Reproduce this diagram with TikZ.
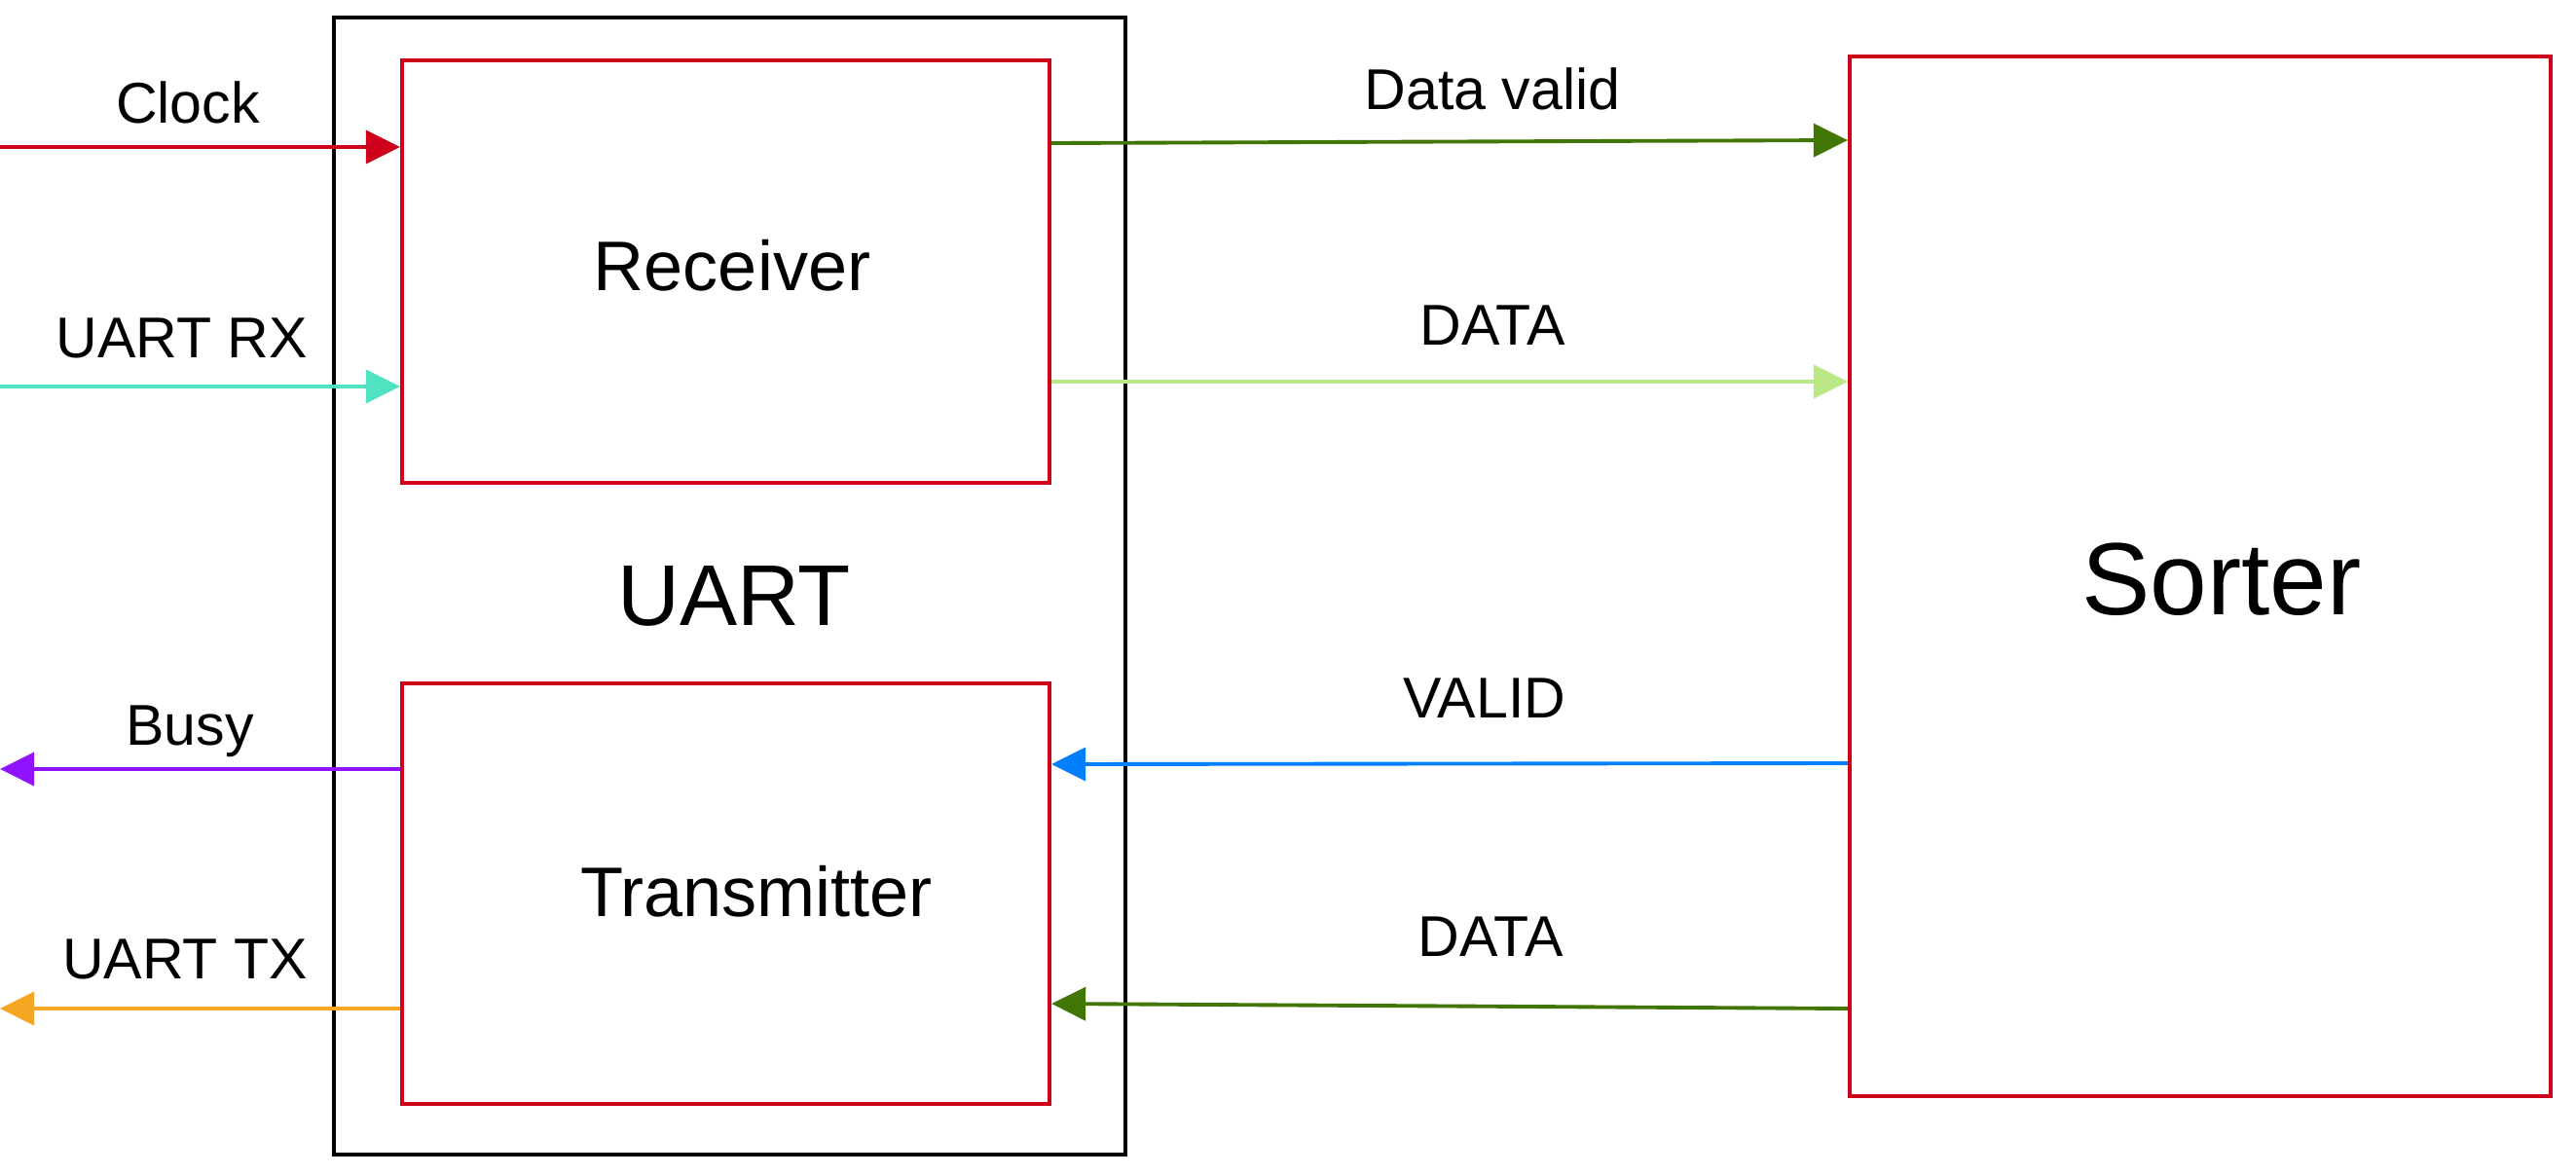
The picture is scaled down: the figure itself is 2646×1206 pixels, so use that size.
\documentclass[tikz,border=0pt]{standalone}
\usepackage{fontspec}
\setmainfont{Liberation Sans}
\usetikzlibrary{arrows.meta, positioning, calc}
\definecolor{blockred}{RGB}{208, 2, 27}
\definecolor{rxcyan}{RGB}{80, 227, 194}
\definecolor{busypurple}{RGB}{144, 19, 254}
\definecolor{txorange}{RGB}{245, 166, 35}
\definecolor{validgreen}{RGB}{65, 117, 5}
\definecolor{datagreen}{RGB}{184, 233, 134}
\definecolor{validblue}{RGB}{0, 127, 255}

\begin{document}
\begin{tikzpicture}[
    x=0.01cm, y=-0.01cm,
    unitbox/.style={
        rectangle, draw=blockred, line width=1.1pt, inner sep=0pt
    },
    sigarrow/.style={
        -{Triangle[length=3.5mm, width=3.4mm]}, line width=1.1pt
    },
    siglabel/.style={
        anchor=base, inner sep=0pt, font=\fontsize{16.8}{20}\selectfont
    },
    blocklabel/.style={
        anchor=base, inner sep=0pt, font=\fontsize{20.5}{24}\selectfont
    }
]
\useasboundingbox (0,0) rectangle (2646,1206);

% Nodes
\node[rectangle, draw=black, line width=1.2pt, minimum width=8.13cm, minimum height=11.68cm] (uart) at (749.5,602) {};
\node[unitbox, minimum width=6.65cm, minimum height=4.34cm] (rx) at (745.5,279) {};
\node[unitbox, minimum width=6.65cm, minimum height=4.32cm] (tx) at (745.5,918) {};
\node[unitbox, minimum width=7.20cm, minimum height=10.68cm] (sorter) at (2260,592) {};

\node[blocklabel] (rxname) at (752,298) {Receiver};
\node[blocklabel] (txname) at (777,941) {Transmitter};
\node[anchor=base, inner sep=0pt, font=\fontsize{25.2}{30}\selectfont] (uartname) at (754,642) {UART};
\node[anchor=base, inner sep=0pt, font=\fontsize{30}{36}\selectfont] (sortername) at (2282,631) {Sorter};

% Free ends on the left
\coordinate (clkin) at (0,151);
\coordinate (rxin) at (0,397);
\coordinate (busyout) at (0,790);
\coordinate (txout) at (0,1036);

% Connections
\draw[sigarrow, blockred] (clkin) -- (clkin -| rx.west);
\draw[sigarrow, rxcyan] (rxin) -- (rxin -| rx.west);
\draw[sigarrow, busypurple] (busyout -| tx.west) -- (busyout);
\draw[sigarrow, txorange] (txout -| tx.west) -- (txout);

\draw[sigarrow, validgreen] (rx.east |- 0,147) -- (sorter.west |- 0,144);
\draw[sigarrow, datagreen] (rx.east |- 0,392) -- (sorter.west |- 0,392);
\draw[sigarrow, validblue] (sorter.west |- 0,784) -- (tx.east |- 0,785);
\draw[sigarrow, validgreen] (sorter.west |- 0,1036) -- (tx.east |- 0,1031);

% Labels
\node[siglabel] (clklabel) at (193,126) {Clock};
\node[siglabel] (rxlabel) at (187,367) {UART RX};
\node[siglabel] (busylabel) at (195,765) {Busy};
\node[siglabel] (txlabel) at (190,1005) {UART TX};
\node[siglabel] (dvlabel) at (1533,112) {Data valid};
\node[siglabel] (dinlabel) at (1533,354) {DATA};
\node[siglabel] (validlabel) at (1525,737) {VALID};
\node[siglabel] (doutlabel) at (1531,982) {DATA};

\end{tikzpicture}
\end{document}
